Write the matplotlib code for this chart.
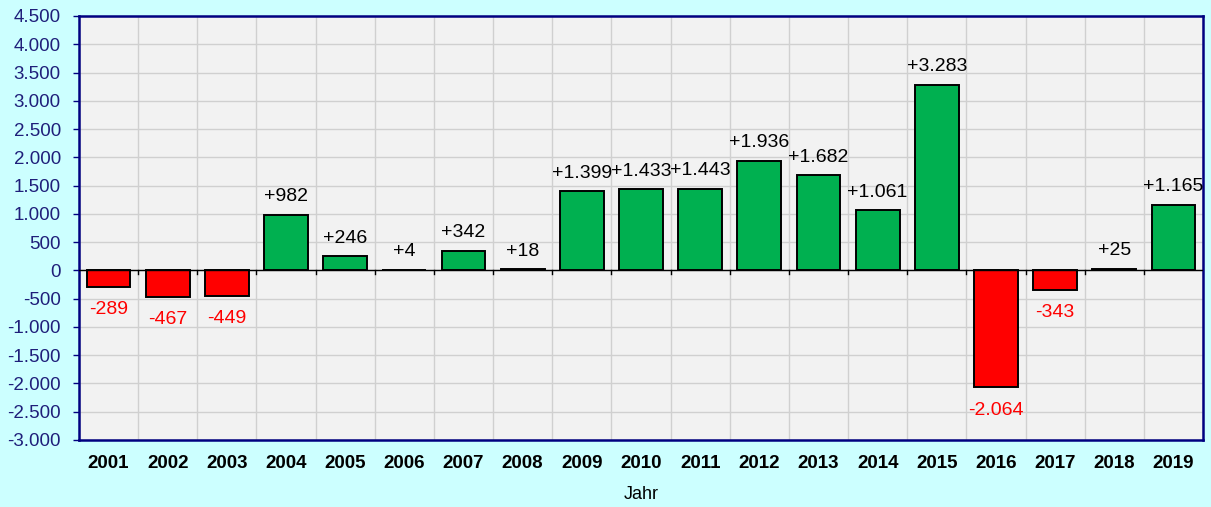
import matplotlib
matplotlib.use("Agg")
import matplotlib.pyplot as plt
from matplotlib.ticker import FuncFormatter, MultipleLocator

years = ["2001", "2002", "2003", "2004", "2005", "2006", "2007", "2008", "2009", "2010",
         "2011", "2012", "2013", "2014", "2015", "2016", "2017", "2018", "2019"]
values = [-289, -467, -449, 982, 246, 4, 342, 18, 1399, 1433,
          1443, 1936, 1682, 1061, 3283, -2064, -343, 25, 1165]

plt.rcParams['font.family'] = ['Liberation Sans', 'DejaVu Sans']

def de_fmt(v):
    s = f"{abs(int(round(v))):,}".replace(",", ".")
    return ("-" if v < 0 else "") + s

fig = plt.figure(figsize=(12.11, 5.07), dpi=100, facecolor="#CCFFFF")
ax = fig.add_axes([79/1211, 1 - 440/507, (1203-79)/1211, (440-16)/507])
ax.set_facecolor("#F2F2F2")

x = list(range(len(years)))
colors = ["#00B050" if v >= 0 else "#FF0000" for v in values]
ax.bar(x, values, width=0.74, color=colors, edgecolor="black", linewidth=1.4, zorder=3)

ax.set_xlim(-0.5, len(years) - 0.5)
ax.set_ylim(-3000, 4500)
ax.yaxis.set_major_locator(MultipleLocator(500))
ax.yaxis.set_major_formatter(FuncFormatter(lambda v, p: de_fmt(v)))
ax.tick_params(axis='y', colors="#000080", labelcolor="#1F1F7A", labelsize=13.5,
               length=4, width=1, pad=9)

# vertical grid at category boundaries
for b in range(len(years) + 1):
    ax.axvline(b - 0.5, color="#D0D0D0", linewidth=1, zorder=1)
ax.yaxis.grid(True, color="#D0D0D0", linewidth=1, zorder=1)
ax.set_axisbelow(True)

ax.set_xticks(x)
ax.set_xticklabels(years, fontweight="bold", fontsize=13.5)
ax.tick_params(axis='x', length=0, pad=11)

# zero line with small ticks at boundaries
ax.axhline(0, color="black", linewidth=1, zorder=4)
for b in range(1, len(years)):
    ax.plot([b - 0.5, b - 0.5], [0, -70], color="black", linewidth=1, zorder=4)

for xi, v in zip(x, values):
    if v >= 0:
        ax.annotate("+" + de_fmt(v), (xi, v), xytext=(0, 7), textcoords="offset points",
                    ha="center", va="bottom", fontsize=14, color="black", zorder=5)
    else:
        ax.annotate(de_fmt(v), (xi, v), xytext=(0, -10.5), textcoords="offset points",
                    ha="center", va="top", fontsize=14, color="#FF0000", zorder=5)

for sp in ax.spines.values():
    sp.set_color("#000080")
    sp.set_linewidth(1.8)

ax.set_xlabel("Jahr", fontsize=13, labelpad=10)

fig.savefig("out.png", dpi=100, facecolor=fig.get_facecolor())
